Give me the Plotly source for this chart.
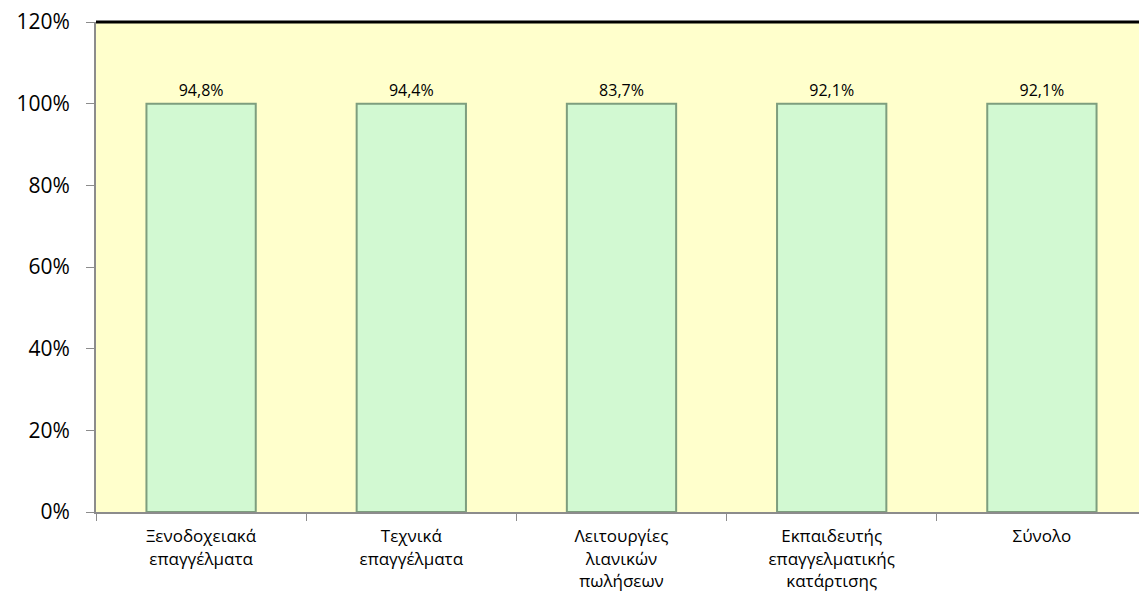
import plotly.graph_objects as go

categories = ["Ξενοδοχειακά<br>επαγγέλματα", "Τεχνικά<br>επαγγέλματα",
              "Λειτουργίες<br>λιανικών<br>πωλήσεων",
              "Εκπαιδευτής<br>επαγγελματικής<br>κατάρτισης", "Σύνολο"]
bar_values = [100, 100, 100, 100, 100]
label_values = [94.8, 94.4, 83.7, 92.1, 92.1]
y_ticks = [0, 20, 40, 60, 80, 100, 120]

labels = [f"{v:.1f}".replace(".", ",") + "%" for v in label_values]

fig = go.Figure()
fig.add_trace(go.Bar(
    x=categories, y=bar_values, text=labels, textposition="outside",
    textfont=dict(size=16, color="#000000"),
    marker=dict(color="#D2F9D2", line=dict(color="#7E9E7E", width=2)),
    width=0.52, cliponaxis=False,
))

fig.update_layout(
    width=1139, height=591,
    margin=dict(l=88, r=0, t=14, b=87),
    paper_bgcolor="#FFFFFF", plot_bgcolor="#FFFFCC",
    font=dict(family="Open Sans, Noto Sans, sans-serif", color="#000000"),
    showlegend=False,
    xaxis=dict(showline=True, linecolor="#8C8C8C", linewidth=2,
               ticks="outside", tickson="boundaries", ticklen=7, tickcolor="#8C8C8C",
               ticklabelstandoff=8,
               tickfont=dict(size=17), showgrid=False),
    yaxis=dict(range=[0, 120], tickvals=y_ticks, ticktext=[f"{v}%" for v in y_ticks],
               showline=True, linecolor="#8C8C8C", linewidth=2,
               ticks="outside", ticklen=8, tickcolor="#8C8C8C",
               ticklabeloverflow="allow", ticklabelstandoff=12,
               tickfont=dict(size=21), showgrid=False, zeroline=False),
)
fig.add_shape(type="line", xref="paper", yref="paper", x0=0, x1=1, y0=1, y1=1,
              line=dict(color="#000000", width=3))

fig.write_html("out.html")
